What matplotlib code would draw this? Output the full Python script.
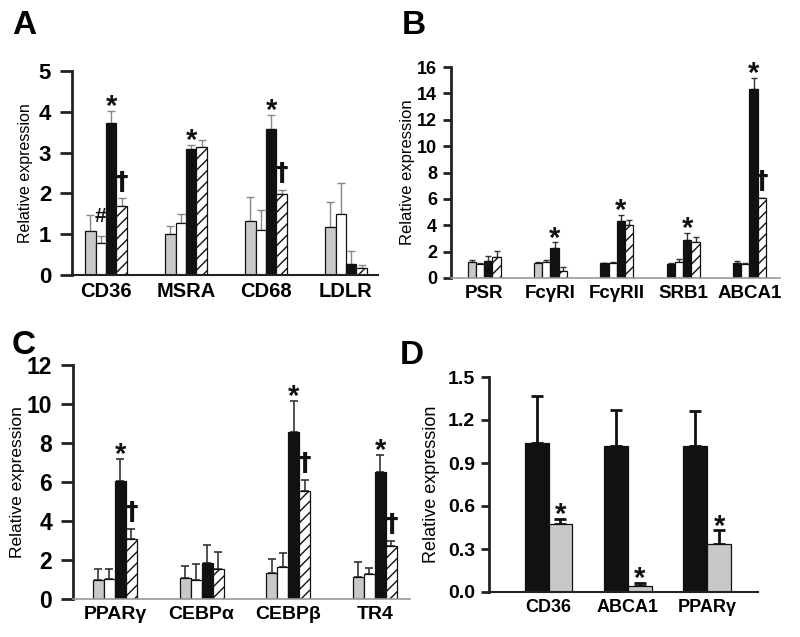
import matplotlib
matplotlib.use("Agg")
import matplotlib.pyplot as plt
import numpy as np

plt.rcParams['font.family'] = ['Liberation Sans', 'DejaVu Sans']
plt.rcParams['hatch.linewidth'] = 1.0

# ---------------- data ----------------
A_cats = ['CD36', 'MSRA', 'CD68', 'LDLR']
A_gray = [1.08, 1.00, 1.33, 1.18]
A_gray_err = [0.39, 0.19, 0.59, 0.62]
A_white = [0.78, 1.28, 1.10, 1.50]
A_white_err = [0.17, 0.21, 0.50, 0.75]
A_black = [3.73, 3.08, 3.57, 0.28]
A_black_err = [0.30, 0.10, 0.36, 0.32]
A_hatch = [1.68, 3.13, 1.98, 0.17]
A_hatch_err = [0.20, 0.17, 0.11, 0.08]
A_marks = [(0, 1, '#'), (0, 2, '*'), (0, 3, '†'), (1, 2, '*'), (2, 2, '*'), (2, 3, '†')]

B_cats = ['PSR', 'FcγRI', 'FcγRII', 'SRB1', 'ABCA1']
B_first = [1.20, 1.15, 1.10, 1.05, 1.10]
B_first_err = [0.20, 0.10, 0.05, 0.08, 0.18]
B_first_color = ['#c8c8c8', '#c8c8c8', '#111111', '#111111', '#111111']
B_white = [1.05, 1.25, 1.10, 1.20, 1.05]
B_white_err = [0.12, 0.10, 0.15, 0.25, 0.08]
B_black = [1.30, 2.30, 4.30, 2.90, 14.30]
B_black_err = [0.40, 0.40, 0.50, 0.55, 0.90]
B_hatch = [1.60, 0.50, 4.00, 2.70, 6.10]
B_hatch_err = [0.45, 0.30, 0.40, 0.40, 0.00]
B_marks = [(1, 2, '*'), (2, 2, '*'), (3, 2, '*'), (4, 2, '*'), (4, 3, '†')]

C_cats = ['PPARγ', 'CEBPα', 'CEBPβ', 'TR4']
C_gray = [1.00, 1.10, 1.35, 1.15]
C_gray_err = [0.55, 0.60, 0.70, 0.75]
C_white = [1.05, 1.00, 1.65, 1.30]
C_white_err = [0.50, 0.80, 0.70, 0.30]
C_black = [6.05, 1.85, 8.55, 6.50]
C_black_err = [1.15, 0.90, 1.60, 0.90]
C_hatch = [3.10, 1.55, 5.55, 2.70]
C_hatch_err = [0.50, 0.85, 0.55, 0.30]
C_marks = [(0, 2, '*'), (0, 3, '†'), (2, 2, '*'), (2, 3, '†'), (3, 2, '*'), (3, 3, '†')]

D_cats = ['CD36', 'ABCA1', 'PPARγ']
D_black = [1.04, 1.02, 1.02]
D_black_err = [0.33, 0.25, 0.24]
D_gray = [0.475, 0.045, 0.335]
D_gray_err = [0.035, 0.02, 0.095]

W, H = 800, 637
fig = plt.figure(figsize=(8, 6.37), dpi=100)


def add_ax(left, top, right, bottom):
    return fig.add_axes([left / W, 1 - bottom / H, (right - left) / W, (bottom - top) / H])


def style(ax, ymax, yticks, ylabels, tick_fs, xcats, x_fs, ylabel_fs, label_x, tlen=7, tpad=5,
          bottom_color='#222222', bottom_lw=1.5):
    ax.spines['top'].set_visible(False)
    ax.spines['right'].set_visible(False)
    ax.spines['left'].set_linewidth(2.0)
    ax.spines['left'].set_color('#222222')
    ax.spines['bottom'].set_linewidth(bottom_lw)
    ax.spines['bottom'].set_color(bottom_color)
    ax.set_ylim(0, ymax)
    ax.set_yticks(yticks)
    ax.set_yticklabels(ylabels, fontsize=tick_fs, fontweight='bold')
    ax.tick_params(axis='y', direction='out', length=tlen, width=2, color='#222222', pad=tpad)
    ax.set_xticks(range(len(xcats)))
    ax.set_xticklabels(xcats, fontsize=x_fs, fontweight='bold')
    ax.tick_params(axis='x', length=0, pad=5)
    ax.set_ylabel('Relative expression', fontsize=ylabel_fs)
    ax.yaxis.set_label_coords(label_x, 0.5)
    ax.patch.set_alpha(0)


def bars(ax, x, vals, errs, color, bw, hatch=None, ecolor='#777777', elw=1.0, cap=3, edge='#111111'):
    ax.bar(x, vals, bw, color=color, edgecolor=edge, linewidth=0.9, hatch=hatch, zorder=2)
    errs = np.asarray(errs)
    ax.errorbar(x, vals, yerr=[np.zeros_like(errs), errs], fmt='none', ecolor=ecolor,
                elinewidth=elw, capsize=cap, capthick=elw, zorder=1)


MARK_STYLE = {
    '*': dict(fontsize=21, dy=-3, family=['Liberation Sans']),
    '†': dict(fontsize=18, dy=7, family=['DejaVu Sans']),
    '#': dict(fontsize=15, dy=10, family=['Liberation Sans']),
}


def put_mark(ax, x, top, s):
    st = MARK_STYLE[s]
    ax.annotate(s, xy=(x, top), xytext=(0, st['dy']), textcoords='offset points',
                ha='center', va='baseline', fontsize=st['fontsize'], fontweight='bold',
                family=st['family'], color='#111111')


def marks(ax, marklist, offsets, tops):
    for g, b, s in marklist:
        put_mark(ax, g + offsets[b], tops[b][g], s)


HATCH = '///'

# ---------------- Panel A ----------------
axA = add_ax(72, 71, 378, 275)
bw = 0.131
xA = np.arange(len(A_cats))
offs = [-1.5 * bw, -0.5 * bw, 0.5 * bw, 1.5 * bw]
bars(axA, xA + offs[0], A_gray, A_gray_err, '#c8c8c8', bw, ecolor='#888888')
bars(axA, xA + offs[1], A_white, A_white_err, 'white', bw, ecolor='#888888')
bars(axA, xA + offs[2], A_black, A_black_err, '#111111', bw, ecolor='#888888')
bars(axA, xA + offs[3], A_hatch, A_hatch_err, 'white', bw, hatch=HATCH, ecolor='#888888')
axA.set_xlim(-0.425, 3.4)
style(axA, 5, range(6), [str(i) for i in range(6)], 16, A_cats, 14.5, 11.5, -0.127, tlen=9, tpad=6)
topsA = [np.add(A_gray, A_gray_err), np.add(A_white, A_white_err),
         np.add(A_black, A_black_err), np.add(A_hatch, A_hatch_err)]
marks(axA, A_marks, offs, topsA)

# ---------------- Panel B ----------------
axB = add_ax(451, 67, 780, 278)
bw = 0.125
xB = np.arange(len(B_cats))
offs = [-1.5 * bw, -0.5 * bw, 0.5 * bw, 1.5 * bw]
bars(axB, xB + offs[0], B_first, B_first_err, B_first_color, bw, ecolor='#333333', cap=2.5)
bars(axB, xB + offs[1], B_white, B_white_err, 'white', bw, ecolor='#333333', cap=2.5)
bars(axB, xB + offs[2], B_black, B_black_err, '#111111', bw, ecolor='#333333', cap=2.5)
bars(axB, xB + offs[3], B_hatch, B_hatch_err, 'white', bw, hatch=HATCH, ecolor='#333333', cap=2.5)
axB.set_xlim(-0.5, 4.46)
style(axB, 16, range(0, 17, 2), [str(i) for i in range(0, 17, 2)], 13, B_cats, 13.5, 12, -0.109,
      tlen=6, tpad=4, bottom_color='#999999', bottom_lw=1.2)
topsB = [np.add(B_first, B_first_err), np.add(B_white, B_white_err),
         np.add(B_black, B_black_err), np.add(B_hatch, B_hatch_err)]
marks(axB, B_marks, offs, topsB)

# ---------------- Panel C ----------------
axC = add_ax(73, 365, 410, 599)
bw = 0.127
xC = np.arange(len(C_cats))
offs = [-1.5 * bw, -0.5 * bw, 0.5 * bw, 1.5 * bw]
bars(axC, xC + offs[0], C_gray, C_gray_err, '#c8c8c8', bw, ecolor='#333333', elw=1.2)
bars(axC, xC + offs[1], C_white, C_white_err, 'white', bw, ecolor='#333333', elw=1.2)
bars(axC, xC + offs[2], C_black, C_black_err, '#111111', bw, ecolor='#333333', elw=1.2)
bars(axC, xC + offs[3], C_hatch, C_hatch_err, 'white', bw, hatch=HATCH, ecolor='#333333', elw=1.2)
axC.set_xlim(-0.484, 3.404)
style(axC, 12, range(0, 13, 2), [str(i) for i in range(0, 13, 2)], 16.5, C_cats, 14, 12.5, -0.142,
      tlen=9, tpad=6, bottom_color='#999999', bottom_lw=1.2)
topsC = [np.add(C_gray, C_gray_err), np.add(C_white, C_white_err),
         np.add(C_black, C_black_err), np.add(C_hatch, C_hatch_err)]
marks(axC, C_marks, offs, topsC)

# ---------------- Panel D ----------------
axD = add_ax(489, 377, 758, 592)
bw = 0.302
xD = np.arange(len(D_cats))
bars(axD, xD - bw / 2, D_black, D_black_err, '#111111', bw, ecolor='#111111', elw=2.0, cap=4)
bars(axD, xD + bw / 2, D_gray, D_gray_err, '#c8c8c8', bw, ecolor='#111111', elw=2.0, cap=4)
axD.set_xlim(-0.75, 2.64)
style(axD, 1.5, [0, 0.3, 0.6, 0.9, 1.2, 1.5], ['0.0', '0.3', '0.6', '0.9', '1.2', '1.5'],
      14, D_cats, 13, 13, -0.182, tlen=6, tpad=4)
for g in range(len(D_cats)):
    put_mark(axD, xD[g] + bw / 2, D_gray[g] + D_gray_err[g], '*')

# ---------------- panel letters ----------------
for lab, x, y in [('A', 12, 10), ('B', 402, 10), ('C', 12, 330), ('D', 400, 340)]:
    fig.text(x / W, 1 - y / H, lab, fontsize=24, fontweight='bold', ha='left', va='top')

fig.savefig('out.png', dpi=100)
